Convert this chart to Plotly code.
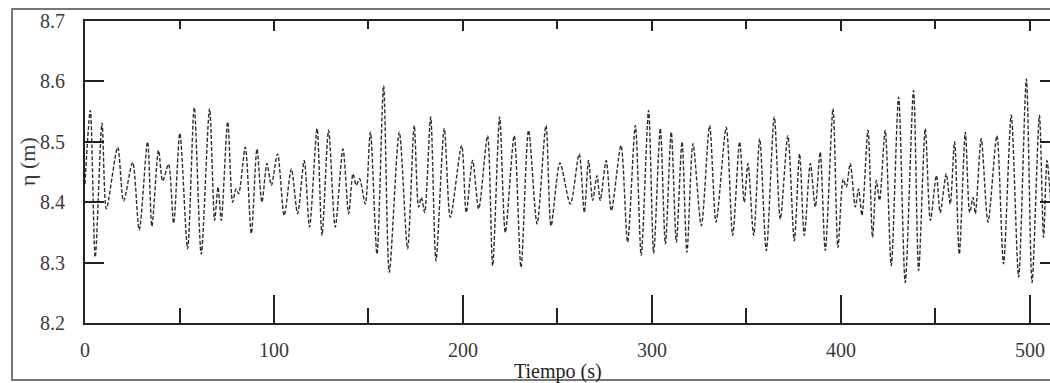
import plotly.graph_objects as go

# Time (s) of successive crests / troughs
tiempo = [0.0, 2.8, 5.4, 9.0, 11.3, 17.3, 20.4, 25.2, 28.7, 33.1, 35.4, 38.9, 41.1, 44.2, 46.9,
          50.2, 54.3, 57.8, 61.5, 65.9, 68.6, 70.4, 72.1, 75.5, 78.1, 79.9, 81.3, 84.8, 88.0,
          91.0, 93.6, 96.3, 98.6, 101.9, 105.4, 109.2, 112.5, 116.0, 118.8, 122.8, 125.4,
          128.9, 132.4, 136.5, 139.5, 141.8, 143.5, 145.3, 148.3, 151.0, 154.5, 158.0, 161.0,
          166.3, 170.7, 174.2, 176.5, 178.0, 179.7, 182.9, 185.7, 190.1, 193.3, 199.3, 201.7,
          205.1, 208.3, 213.0, 215.7, 219.4, 222.4, 227.1, 230.7, 234.7, 239.2, 243.9, 246.6,
          251.3, 256.8, 261.5, 264.2, 266.4, 268.6, 270.9, 272.6, 275.8, 278.5, 283.6, 287.1,
          291.2, 294.3, 298.2, 300.9, 304.4, 307.1, 310.2, 312.9, 315.9, 318.5, 321.7, 326.1,
          330.5, 333.9, 339.3, 342.7, 346.4, 348.8, 350.8, 353.8, 357.0, 360.5, 364.7, 367.9,
          371.9, 375.3, 378.1, 380.6, 383.8, 386.4, 389.0, 391.7, 395.8, 398.4, 401.2, 402.8,
          404.9, 407.6, 409.3, 411.1, 414.3, 416.7, 418.7, 420.4, 423.4, 426.6, 430.5, 434.0,
          438.4, 441.1, 444.6, 447.3, 450.5, 452.5, 455.7, 457.8, 460.1, 462.6, 465.8, 468.1,
          469.9, 471.1, 474.2, 477.8, 482.5, 486.0, 490.1, 494.0, 498.1, 501.1, 505.0, 507.2,
          509.0, 511.0]

# Free-surface elevation eta (m)
eta = [8.430, 8.552, 8.309, 8.531, 8.389, 8.491, 8.402, 8.466, 8.354, 8.500, 8.360, 8.486, 8.435,
       8.463, 8.365, 8.514, 8.323, 8.557, 8.314, 8.555, 8.370, 8.425, 8.370, 8.533, 8.400, 8.422,
       8.414, 8.491, 8.348, 8.488, 8.400, 8.464, 8.428, 8.480, 8.378, 8.455, 8.381, 8.469, 8.359,
       8.522, 8.345, 8.519, 8.359, 8.488, 8.381, 8.447, 8.428, 8.439, 8.397, 8.516, 8.314, 8.593,
       8.284, 8.516, 8.323, 8.527, 8.392, 8.408, 8.383, 8.541, 8.303, 8.522, 8.375, 8.494, 8.383,
       8.469, 8.389, 8.510, 8.295, 8.541, 8.350, 8.510, 8.292, 8.519, 8.364, 8.527, 8.361, 8.465,
       8.397, 8.480, 8.383, 8.469, 8.403, 8.444, 8.403, 8.469, 8.386, 8.494, 8.334, 8.527, 8.312,
       8.552, 8.316, 8.522, 8.331, 8.516, 8.334, 8.500, 8.317, 8.497, 8.361, 8.527, 8.367, 8.524,
       8.345, 8.500, 8.400, 8.464, 8.345, 8.505, 8.320, 8.541, 8.372, 8.510, 8.336, 8.480, 8.345,
       8.464, 8.392, 8.483, 8.320, 8.555, 8.325, 8.438, 8.425, 8.464, 8.392, 8.422, 8.378, 8.519,
       8.342, 8.436, 8.403, 8.519, 8.295, 8.574, 8.267, 8.585, 8.287, 8.522, 8.370, 8.444, 8.383,
       8.447, 8.397, 8.500, 8.314, 8.516, 8.383, 8.408, 8.381, 8.505, 8.367, 8.510, 8.298, 8.544,
       8.276, 8.604, 8.267, 8.544, 8.342, 8.469, 8.400]

x_ticks = [0, 100, 200, 300, 400, 500]
y_ticks = [8.2, 8.3, 8.4, 8.5, 8.6, 8.7]
x_title = "Tiempo (s)"
y_title = "η (m)"

SERIF = "Liberation Serif, Times New Roman, serif"
TXT = "#3a3a3a"

fig = go.Figure()
fig.add_trace(go.Scatter(
    x=tiempo, y=eta, mode="lines",
    line=dict(color="#2e2e2e", width=1.4, dash="4px,2px", shape="spline", smoothing=0.8),
    showlegend=False, hoverinfo="skip"))
# invisible helper trace for the mirrored axes
fig.add_trace(go.Scatter(x=[tiempo[0]], y=[eta[0]], xaxis="x2", yaxis="y2",
                         mode="markers", marker=dict(opacity=0), showlegend=False, hoverinfo="skip"))

fig.update_layout(
    width=1050, height=383,
    margin=dict(l=85, r=0, t=21, b=60),
    paper_bgcolor="white", plot_bgcolor="white",
    font=dict(family=SERIF, size=20, color=TXT),
    xaxis=dict(range=[0, 510.6], tickvals=x_ticks, ticks="inside", ticklen=28, tickwidth=1.5,
               tickcolor="#222", showline=True, linecolor="#222", linewidth=2,
               showgrid=False, zeroline=False, ticklabelstandoff=8,
               minor=dict(ticks="inside", ticklen=15, tickwidth=1.5, tickcolor="#222", dtick=50,
                          tick0=0, showgrid=False),
               tickfont=dict(family=SERIF, size=20, color=TXT)),
    xaxis2=dict(overlaying="x", matches="x", side="top", tickvals=x_ticks, ticks="inside",
                ticklen=10, tickwidth=1.5, tickcolor="#222", showline=True, linecolor="#222",
                linewidth=2, showticklabels=False, showgrid=False, zeroline=False,
                minor=dict(ticks="inside", ticklen=8, tickwidth=1.5, tickcolor="#222", dtick=50,
                           tick0=0, showgrid=False)),
    yaxis=dict(range=[8.2, 8.7], tickvals=y_ticks, ticktext=[f"{v:.1f}" for v in y_ticks],
               ticks="inside", ticklen=19, tickwidth=1.5, tickcolor="#222",
               showline=True, linecolor="#222", linewidth=2, showgrid=False, zeroline=False,
               ticklabelstandoff=14, tickfont=dict(family=SERIF, size=20, color=TXT)),
    yaxis2=dict(overlaying="y", matches="y", side="right", tickvals=y_ticks, ticks="inside",
                ticklen=10, tickwidth=1.5, tickcolor="#222", showline=False,
                showticklabels=False, showgrid=False, zeroline=False),
    annotations=[
        dict(text=x_title, xref="paper", yref="paper", x=(558 - 85) / 965, y=(323 - 371) / 302,
             xanchor="center", yanchor="middle", showarrow=False,
             font=dict(family=SERIF, size=20, color="#1e1e1e")),
        dict(text=y_title, xref="paper", yref="paper", x=(27 - 85) / 965, y=(323 - 162) / 302,
             xanchor="center", yanchor="middle", showarrow=False, textangle=-90,
             font=dict(family=SERIF, size=22, color=TXT)),
    ],
    shapes=[dict(type="rect", xref="paper", yref="paper",
                 x0=(12 - 85) / 965, x1=1.05, y0=(323 - 380) / 302, y1=(323 - 9) / 302,
                 line=dict(color="#777", width=2), layer="below")],
)

fig.write_html("out.html")
